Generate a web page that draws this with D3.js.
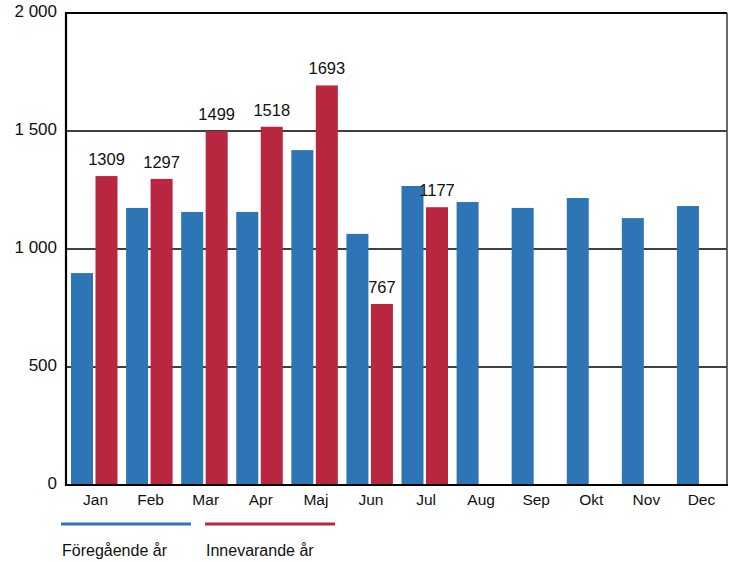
<!DOCTYPE html>
<html>
<head>
<meta charset="utf-8">
<script src="https://cdn.jsdelivr.net/npm/d3@7"></script>
<style>
  body { margin: 0; background: #fff; }
  svg { display: block; font-family: "Liberation Sans", Arial, sans-serif; }
</style>
</head>
<body>
<svg id="chart" width="732" height="562"></svg>
<script>
const months = ["Jan", "Feb", "Mar", "Apr", "Maj", "Jun", "Jul", "Aug", "Sep", "Okt", "Nov", "Dec"];
const previousYear = [898, 1174, 1157, 1157, 1419, 1064, 1267, 1199, 1174, 1216, 1131, 1182];
const currentYear = [1309, 1297, 1499, 1518, 1693, 767, 1177];
const yTicks = [0, 500, 1000, 1500, 2000];
const seriesNames = ["Föregående år", "Innevarande år"];

const blue = "#2e75b6";
const red = "#b8263f";

const svg = d3.select("#chart");
const plotLeft = 66, plotRight = 727, plotTop = 13, plotBottom = 485;

const x = d3.scaleBand().domain(months).range([plotLeft + 1, plotRight + 1]).paddingInner(0).paddingOuter(0);
const y = d3.scaleLinear().domain([0, 2000]).range([plotBottom, plotTop]);

const barW = 22, gap = 2.5, offset = 4;

// gridlines
svg.append("g")
  .selectAll("line")
  .data(yTicks.filter(d => d > 0 && d < 2000))
  .join("line")
  .attr("x1", plotLeft).attr("x2", plotRight)
  .attr("y1", d => y(d)).attr("y2", d => y(d))
  .attr("stroke", "#000").attr("stroke-width", 1.6);

// frame
svg.append("line").attr("x1", plotLeft).attr("x2", plotRight).attr("y1", plotTop).attr("y2", plotTop)
  .attr("stroke", "#000").attr("stroke-width", 2);
svg.append("line").attr("x1", plotRight).attr("x2", plotRight).attr("y1", plotTop).attr("y2", plotBottom)
  .attr("stroke", "#444").attr("stroke-width", 1.6);

// bars: previous year
svg.append("g")
  .selectAll("rect")
  .data(previousYear)
  .join("rect")
  .attr("x", (d, i) => x(months[i]) + offset)
  .attr("width", barW)
  .attr("y", d => y(d))
  .attr("height", d => plotBottom - y(d))
  .attr("fill", blue);

// bars: current year
svg.append("g")
  .selectAll("rect")
  .data(currentYear)
  .join("rect")
  .attr("x", (d, i) => x(months[i]) + offset + barW + gap)
  .attr("width", barW)
  .attr("y", d => y(d))
  .attr("height", d => plotBottom - y(d))
  .attr("fill", red);

// value labels
svg.append("g")
  .selectAll("text")
  .data(currentYear)
  .join("text")
  .attr("x", (d, i) => x(months[i]) + offset + barW + gap + barW / 2)
  .attr("y", d => y(d) - 11)
  .attr("text-anchor", "middle")
  .attr("font-size", 16.5)
  .attr("fill", "#111")
  .text(d => d);

// axes lines
svg.append("line").attr("x1", plotLeft).attr("x2", plotLeft).attr("y1", plotTop - 1).attr("y2", plotBottom + 1)
  .attr("stroke", "#000").attr("stroke-width", 2.2);
svg.append("line").attr("x1", plotLeft - 1).attr("x2", plotRight + 1).attr("y1", plotBottom).attr("y2", plotBottom)
  .attr("stroke", "#000").attr("stroke-width", 2.2);

// y tick labels
const fmt = d => d3.format(",")(d).replace(/,/g, " ");
svg.append("g")
  .selectAll("text")
  .data(yTicks)
  .join("text")
  .attr("x", 57)
  .attr("y", d => y(d) + 3.5)
  .attr("text-anchor", "end")
  .attr("font-size", 17)
  .attr("fill", "#111")
  .text(fmt);

// month labels
svg.append("g")
  .selectAll("text")
  .data(months)
  .join("text")
  .attr("x", d => x(d) + x.bandwidth() / 2 + 1)
  .attr("y", 505)
  .attr("text-anchor", "middle")
  .attr("font-size", 15.5)
  .attr("fill", "#111")
  .text(d => d);

// legend
const legend = svg.append("g")
  .selectAll("g")
  .data(seriesNames)
  .join("g")
  .attr("transform", (d, i) => `translate(${61 + i * 144},0)`);
legend.append("line")
  .attr("x1", 0).attr("x2", 130).attr("y1", 524).attr("y2", 524)
  .attr("stroke", (d, i) => i === 0 ? blue : red)
  .attr("stroke-width", 3);
legend.append("text")
  .attr("x", 1).attr("y", 556)
  .attr("font-size", 16)
  .attr("fill", "#111")
  .text(d => d);
</script>
</body>
</html>
